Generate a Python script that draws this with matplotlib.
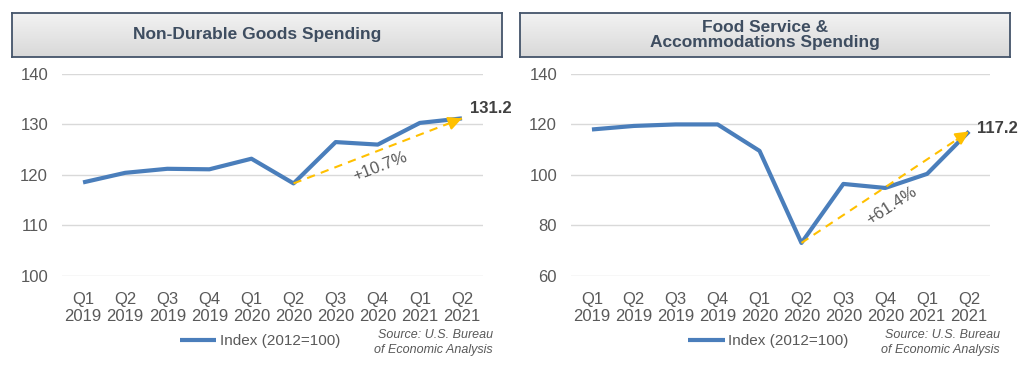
import numpy as np
import matplotlib.pyplot as plt

plt.rcParams['font.family'] = ['Liberation Sans', 'DejaVu Sans']

# datos
trimestres = ['Q1\n2019', 'Q2\n2019', 'Q3\n2019', 'Q4\n2019', 'Q1\n2020',
              'Q2\n2020', 'Q3\n2020', 'Q4\n2020', 'Q1\n2021', 'Q2\n2021']
no_durables = [118.5, 120.4, 121.2, 121.1, 123.2, 118.3, 126.5, 126.0, 130.3, 131.2]
comida_aloj = [118.0, 119.4, 120.0, 120.0, 109.5, 73.0, 96.4, 94.8, 100.4, 117.2]
titulos = ['Non-Durable Goods Spending', 'Food Service &\nAccommodations Spending']
cambios = ['+10.7%', '+61.4%']
etiquetas = ['131.2', '117.2']
limites = [(100, 140), (60, 140)]
pasos = [10, 20]
leyenda = 'Index (2012=100)'
fuente = 'Source: U.S. Bureau\nof Economic Analysis'

azul = '#4a7ebb'
amarillo = '#ffc000'
gris = '#595959'
pizarra = '#44546a'

fig = plt.figure(figsize=(10.24, 3.69), dpi=100)
W, H = 1024, 369

def caja_titulo(x0, x1, y0, y1, texto):
    axt = fig.add_axes([x0 / W, 1 - y1 / H, (x1 - x0) / W, (y1 - y0) / H])
    grad = np.linspace(0.95, 0.85, 50).reshape(-1, 1)
    axt.imshow(np.dstack([grad, grad, grad]), aspect='auto', extent=[0, 1, 0, 1], origin='upper')
    axt.set_xticks([])
    axt.set_yticks([])
    for s in axt.spines.values():
        s.set_color(pizarra)
        s.set_linewidth(1.3)
    axt.text(0.5, 0.5, texto, ha='center', va='center', fontsize=12.5, fontweight='bold',
             color='#3e4d60', linespacing=1.0, transform=axt.transAxes)

cajas = [(12, 502), (520, 1010)]
ejes_x = [(62, 483), (571, 990)]
series = [no_durables, comida_aloj]
rotaciones = [21, 33]
pos_cambio = [(7.05, 121.6), (7.15, 87.7)]

for i in range(2):
    caja_titulo(cajas[i][0], cajas[i][1], 13, 57, titulos[i])
    x0, x1 = ejes_x[i]
    ax = fig.add_axes([x0 / W, 1 - 275.7 / H, (x1 - x0) / W, 201.7 / H])
    x = np.arange(len(trimestres))
    y = series[i]
    ax.plot(x, y, color=azul, lw=3, solid_capstyle='butt', label=leyenda, zorder=3)
    ax.set_xlim(-0.5, len(trimestres) - 0.5)
    ax.set_ylim(*limites[i])
    ax.set_yticks(np.arange(limites[i][0], limites[i][1] + 1, pasos[i]))
    ax.set_xticks(x)
    ax.set_xticklabels(trimestres, linespacing=1.15)
    ax.grid(axis='y', color='#d9d9d9', lw=1)
    ax.set_axisbelow(True)
    for s in ax.spines.values():
        s.set_visible(False)
    ax.tick_params(length=0, labelsize=12, labelcolor=gris)
    ax.tick_params(axis='y', pad=10)
    ax.tick_params(axis='x', pad=12)

    # flecha de crecimiento
    ax.plot([5, 9], [y[5], y[9]], color=amarillo, lw=1.5, ls=(0, (4, 3)), zorder=4)
    fx = 9 - 0.3
    fy = y[9] - 0.3 * (y[9] - y[5]) / 4
    ax.annotate('', xy=(9, y[9]), xytext=(fx, fy),
                arrowprops=dict(arrowstyle='-|>,head_length=0.8,head_width=0.4',
                                color=amarillo, lw=1.5, shrinkA=0, shrinkB=0), zorder=5)
    ax.text(pos_cambio[i][0], pos_cambio[i][1], cambios[i], rotation=rotaciones[i],
            ha='center', va='center', fontsize=12, color=gris)
    ax.annotate(etiquetas[i], xy=(9, y[9]), xytext=(6, 2), textcoords='offset points',
                ha='left', va='bottom' if i == 0 else 'center', fontsize=12,
                fontweight='bold', color='#404040')

    ax.legend(loc='center', bbox_to_anchor=(0.47, -0.325), frameon=False, fontsize=11,
              handlelength=2.4, handletextpad=0.2, labelcolor=gris)
    ax.text((x1 - x0 + 10) / (x1 - x0), -0.33, fuente, transform=ax.transAxes,
            ha='right', va='center', fontsize=9, style='italic', color=gris, linespacing=1.35)

fig.savefig('out.png', dpi=100)
